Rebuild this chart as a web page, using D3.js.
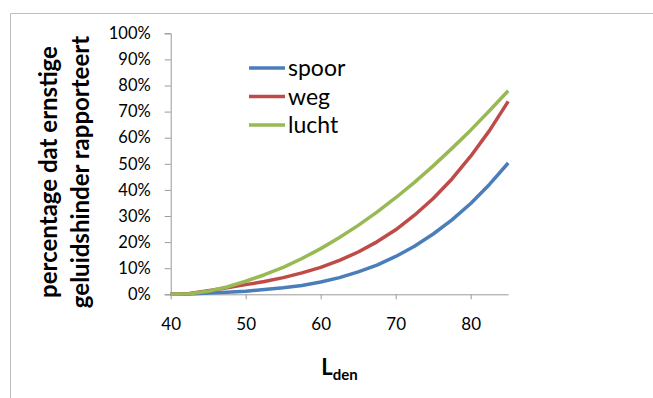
<!DOCTYPE html>
<html><head><meta charset="utf-8">
<script src="https://cdn.jsdelivr.net/npm/d3@7"></script>
<style>
html,body{margin:0;padding:0;background:#fff;}
svg{display:block;font-family:Lato,"Open Sans",sans-serif;}
</style></head>
<body>
<svg id="c" width="653" height="398"></svg>
<script>
const lden = [40,42.5,45,47.5,50,52.5,55,57.5,60,62.5,65,67.5,70,72.5,75,77.5,80,82.5,85];
const spoor = [0,0.1,0.5,0.8,1.2,1.8,2.5,3.4,4.7,6.4,8.6,11.2,14.5,18.4,23.1,28.5,34.8,42.1,50.3];
const weg   = [0,0.3,1.4,2.5,3.7,4.9,6.4,8.2,10.3,13.0,16.2,20.1,24.7,30.3,36.7,44.2,52.9,62.7,73.9];
const lucht = [0,0.2,1.2,2.8,5.0,7.5,10.3,13.7,17.5,21.8,26.4,31.5,37.0,42.9,49.2,55.9,62.9,70.3,78.0];
const seriesNames = ["spoor","weg","lucht"];
const seriesColors = ["#4A7EBB","#BE4B48","#98B954"];
const xTicks = [40,50,60,70,80];
const yTicks = [0,10,20,30,40,50,60,70,80,90,100];
const yTitle = ["percentage dat ernstige","geluidshinder rapporteert"];

const svg = d3.select("#c");
const axisColor = "#9a9a9a";

// chart frame
svg.append("path").attr("d","M10.5,398 V13.5 H653")
  .attr("fill","none").attr("stroke","#bfbfbf").attr("stroke-width",1);

const x = d3.scaleLinear().domain([40,85]).range([170.7,508.2]);
const y = d3.scaleLinear().domain([0,100]).range([294.3,33.3]);

// y axis
const gy = svg.append("g").attr("transform","translate(170.7,0)")
  .call(d3.axisLeft(y).tickValues(yTicks).tickSize(6).tickPadding(14).tickFormat(d=>d+"%"));
gy.select(".domain").attr("stroke",axisColor);
gy.selectAll(".tick line").attr("stroke",axisColor);
gy.selectAll(".tick text").attr("fill","#000").attr("font-size",16.5).attr("font-family","Lato");

// x axis
const gx = svg.append("g").attr("transform","translate(0,294.3)")
  .call(d3.axisBottom(x).tickValues(xTicks).tickSize(5).tickPadding(19).tickSizeOuter(0));
gx.select(".domain").attr("stroke",axisColor);
gx.selectAll(".tick line").attr("stroke",axisColor);
gx.selectAll(".tick text").attr("fill","#000").attr("font-size",17).attr("font-family","Lato");

// lines
const data = [spoor,weg,lucht];
const line = d3.line().x((d,i)=>x(lden[i])).y(d=>y(d));
data.forEach((s,k)=>{
  svg.append("path").datum(s).attr("d",line)
    .attr("fill","none").attr("stroke",seriesColors[k])
    .attr("stroke-width",3.5).attr("stroke-linejoin","round").attr("stroke-linecap","butt");
});

// legend
const leg = svg.append("g");
seriesNames.forEach((n,k)=>{
  const ly = 68 + k*28.5;
  leg.append("line").attr("x1",249).attr("x2",285).attr("y1",ly).attr("y2",ly)
    .attr("stroke",seriesColors[k]).attr("stroke-width",3.5);
  leg.append("text").attr("x",288).attr("y",ly).attr("dy","0.35em")
    .attr("font-size",23).attr("fill","#000").text(n);
});

// y title
yTitle.forEach((t,k)=>{
  svg.append("text")
    .attr("transform",`translate(${57+k*32},172) rotate(-90)`)
    .attr("text-anchor","middle").attr("font-weight","bold").attr("font-size",24)
    .attr("fill","#000").text(t);
});

// x title
const xt = svg.append("text").attr("x",339.5).attr("y",375).attr("text-anchor","middle")
  .attr("font-weight","bold").attr("fill","#000");
xt.append("tspan").attr("font-size",22).text("L");
xt.append("tspan").attr("font-size",15).attr("dy",5).text("den");
</script>
</body></html>
